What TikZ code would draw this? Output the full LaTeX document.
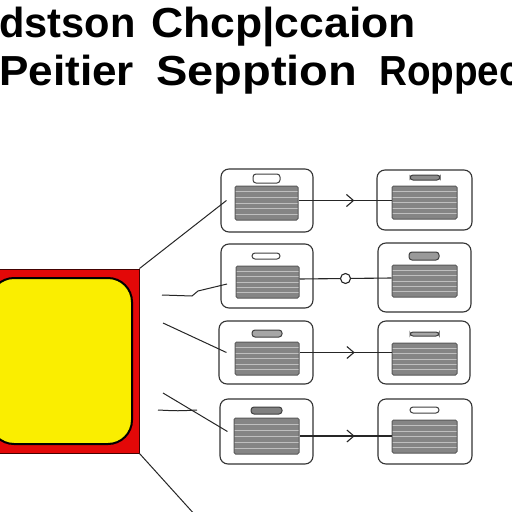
\documentclass[tikz,border=0pt]{standalone}
\usepackage{fontspec}
\setmainfont{Liberation Sans}
\usetikzlibrary{calc,arrows.meta,decorations.markings}
\definecolor{redbox}{HTML}{E30808}
\definecolor{yelbox}{HTML}{FAEE00}
\tikzset{
 cbox/.style={draw=black!80, line width=1.1pt, rounded corners=8pt, fill=white, inner sep=0pt},
 scr/.style={draw=black!65, line width=1pt, fill=black!48, inner sep=0pt, rounded corners=1.5pt,
   path picture={\foreach \k in {1,...,5}{\draw[black!25, line width=0.7pt]
     ($(path picture bounding box.north west)!\k/6!(path picture bounding box.south west)$) --
     ($(path picture bounding box.north east)!\k/6!(path picture bounding box.south east)$);}}},
 handle/.style={draw=black!75, line width=1pt, rounded corners=3pt, inner sep=0pt},
 conn/.style={draw=black!85, line width=1.1pt},
 midarrow/.style={postaction={decorate}, decoration={markings, mark=at position #1 with {\arrow{Straight Barb[length=7pt,width=12pt,line width=1.1pt]}}}},
 wire/.style={draw=black!85, line width=1pt},
 titletext/.style={font=\fontsize{42}{42}\selectfont\bfseries, anchor=base west, inner sep=0pt}
}
\begin{document}
\begin{tikzpicture}[x=1pt,y=-1pt]
\useasboundingbox (0,0) rectangle (512,512);
\fill[white] (0,0) rectangle (512,512);
% title
\node[titletext] (t1a) at (-1,37) {\scalebox{0.99}[1]{dstson}};
\node[titletext] (t1b) at (151,37) {\scalebox{1.06}[1]{Chcp|ccaion}};
\node[titletext] (t2a) at (-1,85) {\scalebox{1.05}[1]{Peitier}};
\node[titletext] (t2b) at (156,85) {\scalebox{1.12}[1]{Sepption}};
\node[titletext] (t2c) at (379,85) {\scalebox{0.92}[1]{Roppec}};
% red box
\node[draw=black!70!redbox, line width=1pt, fill=redbox, minimum width=149pt, minimum height=184pt, inner sep=0pt] (rbox) at (64.5,361) {};
\node[draw=black, line width=2pt, fill=yelbox, rounded corners=24pt, minimum width=142pt, minimum height=166pt, inner sep=0pt] (ybox) at (61,361) {};
% column A boxes
\node[cbox, minimum width=92pt, minimum height=63pt] (a1) at (267,200.5) {};
\node[cbox, minimum width=92pt, minimum height=64pt] (a2) at (267,276) {};
\node[cbox, minimum width=94pt, minimum height=63pt] (a3) at (266,352.5) {};
\node[cbox, minimum width=93pt, minimum height=65pt] (a4) at (266.5,431.5) {};
% column B boxes
\node[cbox, minimum width=95pt, minimum height=60pt] (b1) at (424.5,200) {};
\node[cbox, minimum width=93pt, minimum height=69pt] (b2) at (424.5,277.5) {};
\node[cbox, minimum width=92pt, minimum height=63pt] (b3) at (424,352.5) {};
\node[cbox, minimum width=94pt, minimum height=65pt] (b4) at (425,431.5) {};
% screens
\node[scr, minimum width=63pt, minimum height=34pt] (a1s) at (266.5,203) {};
\node[scr, minimum width=63pt, minimum height=32pt] (a2s) at (267.5,282) {};
\node[scr, minimum width=64pt, minimum height=33pt] (a3s) at (267,358.5) {};
\node[scr, minimum width=65pt, minimum height=36pt] (a4s) at (266.5,436) {};
\node[scr, minimum width=65pt, minimum height=33pt] (b1s) at (424.5,202.5) {};
\node[scr, minimum width=65pt, minimum height=32pt] (b2s) at (424.5,281) {};
\node[scr, minimum width=65pt, minimum height=32pt] (b3s) at (424.5,359) {};
\node[scr, minimum width=65pt, minimum height=33pt] (b4s) at (424.5,436.5) {};
% handles
\node[handle, fill=white, minimum width=27pt, minimum height=9pt] (a1h) at (266.5,178.5) {};
\node[handle, fill=white, minimum width=28pt, minimum height=6pt] (a2h) at (266,256) {};
\node[handle, fill=black!35, minimum width=30pt, minimum height=7pt] (a3h) at (267,333.5) {};
\node[handle, fill=black!50, minimum width=31pt, minimum height=7pt] (a4h) at (266.5,410.5) {};
\node[handle, fill=black!45, minimum width=30pt, minimum height=5pt] (b1h) at (425,177.5) {};
\node[handle, fill=black!40, minimum width=30pt, minimum height=8pt] (b2h) at (424,256) {};
\node[handle, fill=black!35, minimum width=29pt, minimum height=4pt] (b3h) at (424.5,334) {};
\node[handle, fill=white, minimum width=29pt, minimum height=6pt] (b4h) at (424.5,410) {};
% connectors between columns
\draw[conn, midarrow=0.6] (a1s.east |- a1) -- (b1s.west |- a1);
\draw[conn] ($(a2s.east)+(0,-3)$) -- node[circle, draw=black!85, line width=1.1pt, fill=white, inner sep=0pt, minimum size=10pt, pos=0.5] (c2) {} ($(b2s.west)+(0,-3)$);
\draw[conn, midarrow=0.6] (a3s.east |- a3) -- (b3s.west |- a3);
\draw[conn, midarrow=0.6] (a4s.east) -- (b4s.west |- a4s.east);
% wires from red box
\coordinate (w2a) at (162,295);
\coordinate (w2b) at (227,284);
\coordinate (w3a) at (163,323);
\coordinate (w4a) at (163,393);
\coordinate (w4b) at (158,410);
\coordinate (w4c) at (197,410);
\coordinate (wend) at (196,516);
\draw[wire] (rbox.north east) -- ($(a1.west)+(6,0)$);
\draw[wire] (rbox.south east) -- (wend);
\draw[wire] (w2a) -- (192,296) -- (198,291) -- (w2b);
\draw[wire] (w3a) -- ($(a3.west)+(8,0)$);
\draw[wire] (w4a) -- ($(a4.west)+(8,0)$);
\draw[wire] (w4b) .. controls (178,411) .. (w4c);
\end{tikzpicture}
\end{document}
